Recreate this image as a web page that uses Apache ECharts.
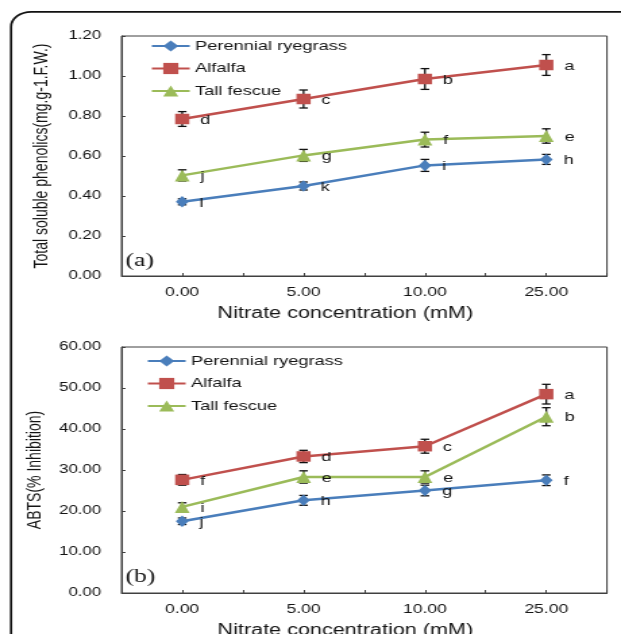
<!DOCTYPE html>
<html><head><meta charset="utf-8">
<script src="https://cdn.jsdelivr.net/npm/echarts@6/dist/echarts.min.js"></script>
<style>
html,body{margin:0;padding:0;background:#fff;overflow:hidden;}
#wrap{width:621px;height:634px;overflow:hidden;position:relative;background:#fff;}
#chart{width:460px;height:634px;transform:scaleX(1.35);transform-origin:0 0;}
</style></head><body>
<div id="wrap"><div id="chart"></div></div>
<script>
// ---------- data ----------
const categories = ['0.00', '5.00', '10.00', '25.00'];
const seriesNames = ['Perennial ryegrass', 'Alfalfa', 'Tall fescue'];

// Panel (a): Total soluble phenolics
const phenolRyegrass = [0.371, 0.450, 0.553, 0.583];
const phenolAlfalfa  = [0.785, 0.885, 0.985, 1.055];
const phenolFescue   = [0.503, 0.603, 0.682, 0.700];
const phenolRyegrassErr = [0.015, 0.020, 0.030, 0.025];
const phenolAlfalfaErr  = [0.037, 0.045, 0.052, 0.052];
const phenolFescueErr   = [0.028, 0.030, 0.037, 0.036];
const phenolRyegrassLetters = ['l', 'k', 'i', 'h'];
const phenolAlfalfaLetters  = ['d', 'c', 'b', 'a'];
const phenolFescueLetters   = ['j', 'g', 'f', 'e'];
const phenolAxis = { min: 0, max: 1.2, interval: 0.2 };

// Panel (b): ABTS (% inhibition)
const abtsRyegrass = [17.5, 22.6, 25.0, 27.5];
const abtsAlfalfa  = [27.6, 33.3, 35.8, 48.5];
const abtsFescue   = [21.0, 28.3, 28.3, 43.0];
const abtsRyegrassErr = [0.8, 1.2, 1.3, 1.3];
const abtsAlfalfaErr  = [1.3, 1.5, 1.7, 2.4];
const abtsFescueErr   = [1.0, 1.5, 1.5, 2.2];
const abtsRyegrassLetters = ['j', 'h', 'g', 'f'];
const abtsAlfalfaLetters  = ['f', 'd', 'c', 'a'];
const abtsFescueLetters   = ['i', 'e', 'e', 'b'];
const abtsAxis = { min: 0, max: 60, interval: 10 };

// ---------- styling ----------
const colors = ['#4A7EBB', '#C0504D', '#9BBB59'];
const symbols = ['diamond', 'rect', 'triangle'];
const symbolSizes = [[9.5, 11.5], [10.5, 10.5], [11, 12]];
const TEXT = '#141414';
const LINE = '#404040';
const FONT = 'Liberation Sans, Arial, sans-serif';

const panels = [
  { vals: [phenolRyegrass, phenolAlfalfa, phenolFescue],
    errs: [phenolRyegrassErr, phenolAlfalfaErr, phenolFescueErr],
    letters: [phenolRyegrassLetters, phenolAlfalfaLetters, phenolFescueLetters],
    axis: phenolAxis, yName: 'Total soluble phenolics(mg.g-1.F.W.)', tag: '(a)',
    top: 36, height: 240, legendTop: 39, legendLeft: 111.5, tagY: 264 },
  { vals: [abtsRyegrass, abtsAlfalfa, abtsFescue],
    errs: [abtsRyegrassErr, abtsAlfalfaErr, abtsFescueErr],
    letters: [abtsRyegrassLetters, abtsAlfalfaLetters, abtsFescueLetters],
    axis: abtsAxis, yName: 'ABTS(% Inhibition)', tag: '(b)',
    top: 347, height: 246, legendTop: 354, legendLeft: 108.5, tagY: 580 }
];

const grid = [], xAxis = [], yAxis = [], series = [], legend = [], graphic = [];

function errRender(params, api) {
  const x = api.value(0);
  const lo = api.coord([x, api.value(1)]);
  const hi = api.coord([x, api.value(2)]);
  const w = 3.2;
  const st = { stroke: '#111', lineWidth: 1.3 };
  return { type: 'group', children: [
    { type: 'line', shape: { x1: lo[0], y1: lo[1], x2: hi[0], y2: hi[1] }, style: st },
    { type: 'line', shape: { x1: lo[0] - w, y1: lo[1], x2: lo[0] + w, y2: lo[1] }, style: st },
    { type: 'line', shape: { x1: hi[0] - w, y1: hi[1], x2: hi[0] + w, y2: hi[1] }, style: st }
  ]};
}

panels.forEach((p, gi) => {
  grid.push({ left: 90, right: 10.4, top: p.top, height: p.height, show: true,
    outerBoundsMode: 'none', containLabel: false,
    borderColor: LINE, borderWidth: 1, backgroundColor: 'transparent' });
  xAxis.push({
    gridIndex: gi, type: 'category', data: categories, position: 'bottom',
    axisLine: { show: true, lineStyle: { color: LINE, width: 1 } },
    axisTick: { show: true, inside: true, length: 3, alignWithLabel: false, lineStyle: { color: LINE } },
    axisLabel: { margin: 10, fontSize: 13, color: TEXT, fontFamily: FONT },
    splitLine: { show: false },
    name: 'Nitrate concentration (mM)', nameLocation: 'middle', nameGap: 30,
    nameTextStyle: { fontSize: 16, color: TEXT, fontFamily: FONT, padding: [0, 28, 0, 0] }
  });
  xAxis.push({
    gridIndex: gi, type: 'category', data: categories, position: 'bottom', offset: 0,
    axisLine: { show: false },
    axisTick: { show: true, inside: true, length: 3, alignWithLabel: true, lineStyle: { color: LINE } },
    axisLabel: { show: false }, splitLine: { show: false }
  });
  yAxis.push({
    gridIndex: gi, type: 'value', min: p.axis.min, max: p.axis.max, interval: p.axis.interval,
    axisLine: { show: true, lineStyle: { color: LINE, width: 1 } },
    axisTick: { show: true, inside: true, length: 3, lineStyle: { color: LINE } },
    splitLine: { show: false },
    axisLabel: { margin: 15, fontSize: 12.5, color: TEXT, fontFamily: FONT, formatter: v => v.toFixed(2) },
    name: p.yName, nameLocation: 'middle', nameGap: 52,
    nameTextStyle: { fontSize: 14, color: TEXT, fontFamily: FONT }
  });
  legend.push({
    orient: 'vertical', left: p.legendLeft, top: p.legendTop, padding: 0,
    itemWidth: 28, itemHeight: 14, itemGap: 8.5,
    textStyle: { fontSize: 13.5, color: TEXT, fontFamily: FONT, lineHeight: 14, padding: [0, 0, 0, -1] },
    data: seriesNames
  });
  seriesNames.forEach((name, si) => {
    const errData = p.vals[si].map((v, i) => [i, v - p.errs[si][i], v + p.errs[si][i]]);
    series.push({
      name: 'err-' + gi + '-' + si, type: 'custom', xAxisIndex: gi * 2, yAxisIndex: gi,
      renderItem: errRender, data: errData, encode: { x: 0, y: [1, 2] }, z: 1, silent: true
    });
  });
  seriesNames.forEach((name, si) => {
    const letters = p.letters[si];
    series.push({
      name: name, type: 'line', xAxisIndex: gi * 2, yAxisIndex: gi,
      data: p.vals[si], color: colors[si],
      symbol: symbols[si], symbolSize: symbolSizes[si], showAllSymbol: true,
      lineStyle: { width: 2.5, color: colors[si] },
      itemStyle: { color: colors[si] },
      label: { show: true, position: 'right', distance: 8, offset: [0, 1],
        fontSize: 13.5, color: TEXT, fontFamily: FONT,
        formatter: prm => letters[prm.dataIndex] },
      z: 3
    });
  });
  graphic.push({ type: 'text', left: 93, top: p.tagY - 12, silent: true,
    style: { text: p.tag, fontSize: 19, fontFamily: 'Liberation Serif, Times New Roman, serif', fill: TEXT } });
});

graphic.push({ type: 'rect', silent: true, z: 100,
  shape: { x: 8.2, y: 11.8, width: 520, height: 700, r: 15 },
  style: { fill: 'none', stroke: '#111', lineWidth: 1.7 } });

const chart = echarts.init(document.getElementById('chart'), null, { renderer: 'canvas' });
chart.setOption({
  animation: false,
  backgroundColor: '#fff',
  grid, xAxis, yAxis, legend, series, graphic
});
</script>
</body></html>
